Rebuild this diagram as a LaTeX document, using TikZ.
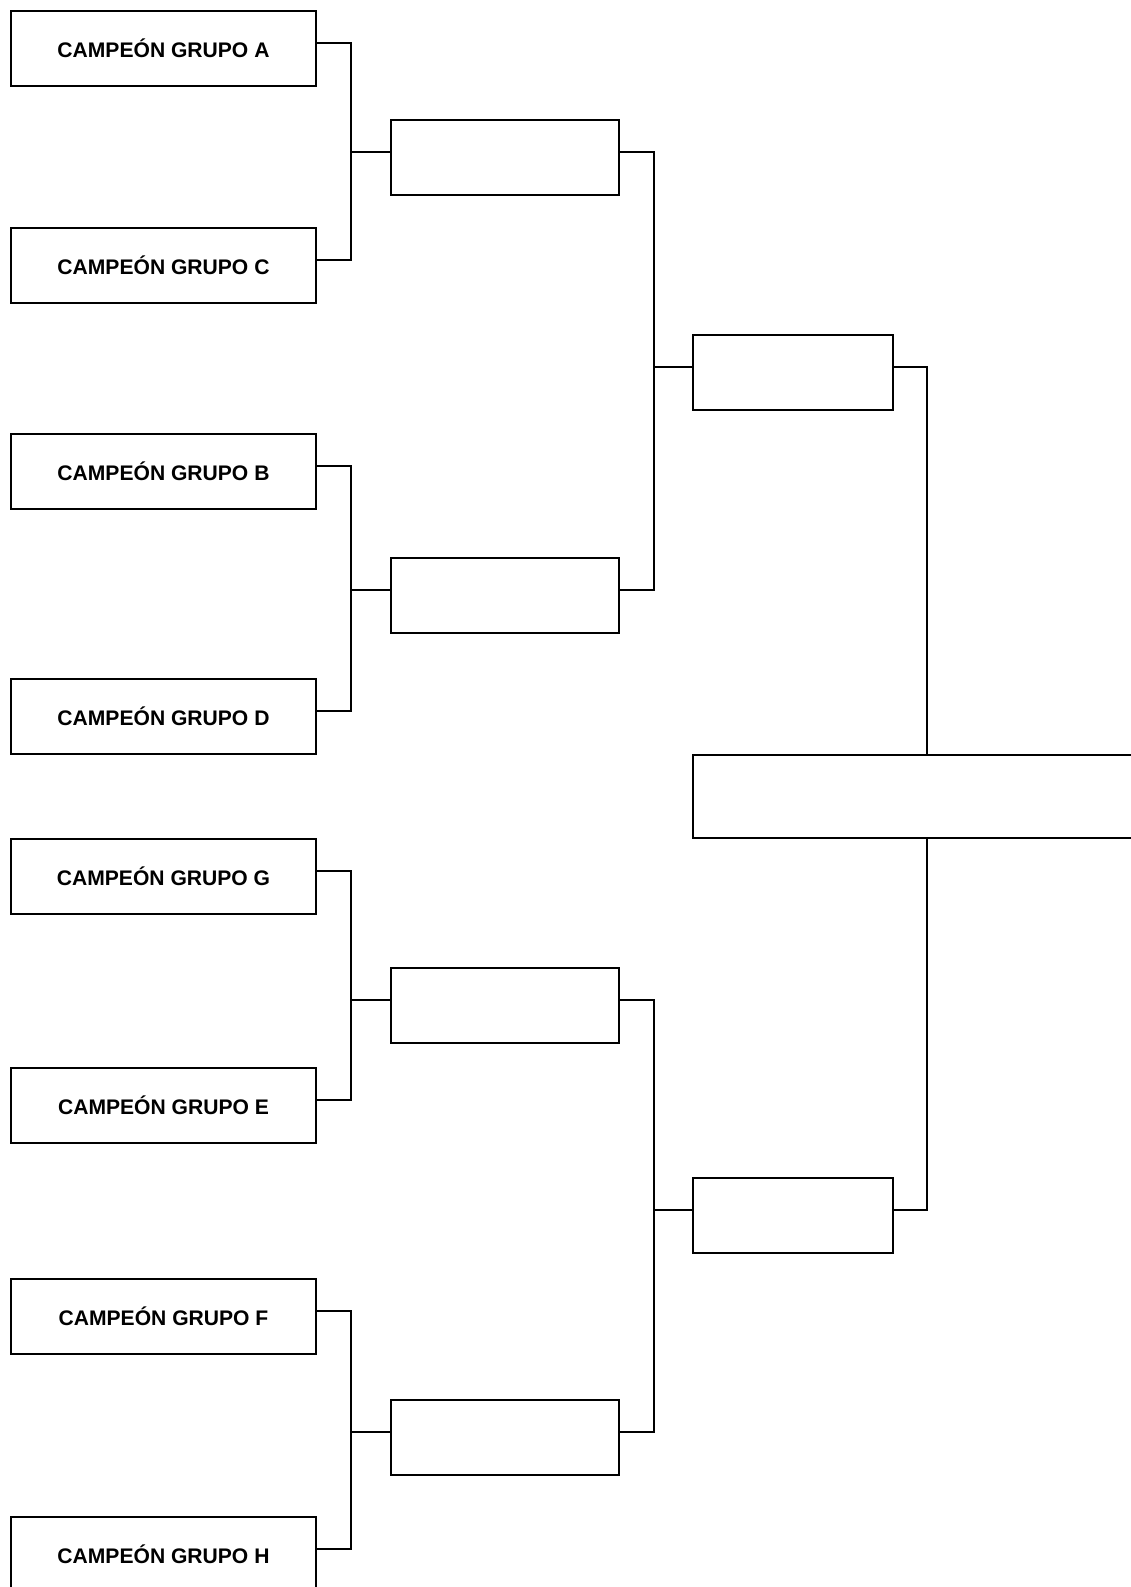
\documentclass[tikz,border=0pt]{standalone}
\usepackage{fontspec}
\setmainfont{Liberation Sans}
\usepackage{tikz}
\usetikzlibrary{positioning}
\tikzset{
    grupo/.style = {rectangle, draw=black, line width=0.04cm, inner sep=0, outer sep=0, minimum width=6.1cm, minimum height=1.5cm, align=center, font=\fontsize{12}{14}\selectfont\bfseries, text=black},
    cuartos/.style = {rectangle, draw=black, line width=0.04cm, inner sep=0, outer sep=0, minimum width=4.58cm, minimum height=1.5cm},
    semis/.style = {rectangle, draw=black, line width=0.04cm, inner sep=0, outer sep=0, minimum width=4cm, minimum height=1.5cm},
    final/.style = {rectangle, draw=black, line width=0.04cm, inner sep=0, outer sep=0, minimum width=8.94cm, minimum height=1.66cm},
    edgen/.style = {-, line width=0.04cm, black},
}

\begin{document}
\begin{tikzpicture}[x=0.02cm, y=-0.02cm]
\useasboundingbox (0,0) rectangle (1131,1587);

\node[grupo] at (163.5,   48) (A) {CAMPEÓN GRUPO A};
\node[grupo] at (163.5,  265) (C) {CAMPEÓN GRUPO C};
\node[grupo] at (163.5,  471) (B) {CAMPEÓN GRUPO B};
\node[grupo] at (163.5,  716) (D) {CAMPEÓN GRUPO D};
\node[grupo] at (163.5,  876) (G) {CAMPEÓN GRUPO G};
\node[grupo] at (163.5, 1105) (E) {CAMPEÓN GRUPO E};
\node[grupo] at (163.5, 1316) (F) {CAMPEÓN GRUPO F};
\node[grupo] at (163.5, 1554) (H) {CAMPEÓN GRUPO H};

\node[cuartos] at (505,  157) (q1) {};
\node[cuartos] at (505,  595) (q2) {};
\node[cuartos] at (505, 1005) (q3) {};
\node[cuartos] at (505, 1437) (q4) {};

\node[semis] at (793,  372) (s1) {};
\node[semis] at (793, 1215) (s2) {};

\node[final] at (916.5, 796) (fin) {};

% octavos -> cuartos
\draw[edgen] ([yshift=0.1cm]A.east) -- ++(35,0) |- ([yshift=0.1cm]q1.west);
\draw[edgen] ([yshift=0.1cm]C.east) -- ++(35,0) |- ([yshift=0.1cm]q1.west);
\draw[edgen] ([yshift=0.1cm]B.east) -- ++(35,0) |- ([yshift=0.1cm]q2.west);
\draw[edgen] ([yshift=0.1cm]D.east) -- ++(35,0) |- ([yshift=0.1cm]q2.west);
\draw[edgen] ([yshift=0.1cm]G.east) -- ++(35,0) |- ([yshift=0.1cm]q3.west);
\draw[edgen] ([yshift=0.1cm]E.east) -- ++(35,0) |- ([yshift=0.1cm]q3.west);
\draw[edgen] ([yshift=0.1cm]F.east) -- ++(35,0) |- ([yshift=0.1cm]q4.west);
\draw[edgen] ([yshift=0.1cm]H.east) -- ++(35,0) |- ([yshift=0.1cm]q4.west);

% cuartos -> semis
\draw[edgen] ([yshift=0.1cm]q1.east) -- ++(35,0) |- ([yshift=0.1cm]s1.west);
\draw[edgen] ([yshift=0.1cm]q2.east) -- ++(35,0) |- ([yshift=0.1cm]s1.west);
\draw[edgen] ([yshift=0.1cm]q3.east) -- ++(35,0) |- ([yshift=0.1cm]s2.west);
\draw[edgen] ([yshift=0.1cm]q4.east) -- ++(35,0) |- ([yshift=0.1cm]s2.west);

% semis -> final
\draw[edgen] ([yshift=0.1cm]s1.east) -- ++(34.5,0) coordinate (k1) -- (k1 |- fin.north);
\draw[edgen] ([yshift=0.1cm]s2.east) -- ++(34.5,0) coordinate (k2) -- (k2 |- fin.south);

\end{tikzpicture}
\end{document}
